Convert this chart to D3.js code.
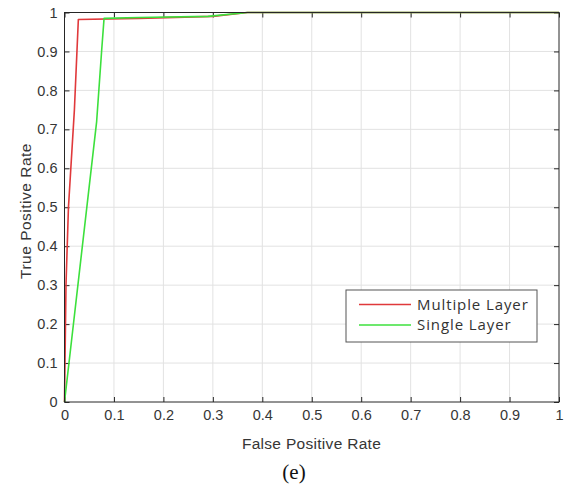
<!DOCTYPE html>
<html>
<head>
<meta charset="utf-8">
<script src="https://cdn.jsdelivr.net/npm/d3@7"></script>
<style>
  html, body { margin: 0; padding: 0; background: #fff; }
  svg { display: block; }
</style>
</head>
<body>
<svg id="chart" width="568" height="487"></svg>
<script>
// ROC curves: false positive rate vs true positive rate
const multipleFpr = [0, 0.003, 0.008, 0.02, 0.028, 0.15, 0.3, 0.37, 1];
const multipleTpr = [0, 0.30, 0.50, 0.75, 0.982, 0.985, 0.99, 1, 1];
const singleFpr = [0, 0.065, 0.075, 0.08, 0.15, 0.29, 0.37, 1];
const singleTpr = [0, 0.72, 0.90, 0.985, 0.987, 0.99, 1, 1];
const xTicks = [0, 0.1, 0.2, 0.3, 0.4, 0.5, 0.6, 0.7, 0.8, 0.9, 1];
const yTicks = [0, 0.1, 0.2, 0.3, 0.4, 0.5, 0.6, 0.7, 0.8, 0.9, 1];
const seriesNames = ["Multiple Layer", "Single Layer"];
const seriesColors = ["#e0393b", "#3ce03c"];

const svg = d3.select("#chart");
const plotLeft = 64.5, plotRight = 559, plotTop = 12.5, plotBottom = 402;
const x = d3.scaleLinear().domain([0, 1]).range([plotLeft, plotRight]);
const y = d3.scaleLinear().domain([0, 1]).range([plotBottom, plotTop]);

const axisColor = "#262626";
const labelColor = "#363636";
const tickFont = "'Liberation Sans', Arial, sans-serif";

// grid
const grid = svg.append("g");
grid.selectAll("line.gx").data(xTicks.slice(1, -1)).enter().append("line")
  .attr("x1", d => x(d)).attr("x2", d => x(d)).attr("y1", plotTop).attr("y2", plotBottom)
  .attr("stroke", "#e2e2e2").attr("stroke-width", 1);
grid.selectAll("line.gy").data(yTicks.slice(1, -1)).enter().append("line")
  .attr("y1", d => y(d)).attr("y2", d => y(d)).attr("x1", plotLeft).attr("x2", plotRight)
  .attr("stroke", "#e2e2e2").attr("stroke-width", 1);

// axes with inward ticks on all sides
function styleAxis(g) {
  g.select(".domain").remove();
  g.selectAll(".tick line").attr("stroke", axisColor);
  g.selectAll(".tick text").attr("fill", labelColor)
    .style("font-family", tickFont).style("font-size", "14.5px");
}
svg.append("g").attr("transform", `translate(0,${plotBottom})`)
  .call(d3.axisBottom(x).tickValues(xTicks).tickSize(-5).tickPadding(8).tickFormat(d3.format("~g")))
  .call(styleAxis);
svg.append("g").attr("transform", `translate(${plotLeft},0)`)
  .call(d3.axisLeft(y).tickValues(yTicks).tickSize(-5).tickPadding(7).tickFormat(d3.format("~g")))
  .call(styleAxis);
svg.append("g").attr("transform", `translate(0,${plotTop})`)
  .call(d3.axisTop(x).tickValues(xTicks).tickSize(-5).tickFormat(""))
  .call(styleAxis);
svg.append("g").attr("transform", `translate(${plotRight},0)`)
  .call(d3.axisRight(y).tickValues(yTicks).tickSize(-5).tickFormat(""))
  .call(styleAxis);

// curves
const line = d3.line().x(d => x(d[0])).y(d => y(d[1]));
const series = [
  d3.zip(multipleFpr, multipleTpr),
  d3.zip(singleFpr, singleTpr)
];
series.forEach((pts, i) => {
  svg.append("path").datum(pts).attr("d", line)
    .attr("fill", "none").attr("stroke", seriesColors[i]).attr("stroke-width", 1.6)
    .attr("stroke-linejoin", "round");
});

// frame
svg.append("rect").attr("x", plotLeft).attr("y", plotTop)
  .attr("width", plotRight - plotLeft).attr("height", plotBottom - plotTop)
  .attr("fill", "none").attr("stroke", axisColor).attr("stroke-width", 1);

// axis titles
svg.append("text").attr("x", 311.5).attr("y", 449)
  .attr("text-anchor", "middle").attr("fill", labelColor)
  .style("font-family", tickFont).style("font-size", "15.5px").style("letter-spacing", "0.3px")
  .text("False Positive Rate");
svg.append("text").attr("transform", `translate(31,211) rotate(-90)`)
  .attr("text-anchor", "middle").attr("fill", labelColor)
  .style("font-family", tickFont).style("font-size", "15.5px").style("letter-spacing", "0.5px")
  .text("True Positive Rate");
svg.append("text").attr("x", 294).attr("y", 479)
  .attr("text-anchor", "middle").attr("fill", "#111")
  .style("font-family", "'Liberation Serif', 'Times New Roman', serif").style("font-size", "21px")
  .text("(e)");

// legend
const lg = svg.append("g");
lg.append("rect").attr("x", 346).attr("y", 290).attr("width", 191).attr("height", 52)
  .attr("fill", "#fff").attr("stroke", "#555").attr("stroke-width", 1);
seriesNames.forEach((name, i) => {
  const ly = 304.5 + i * 20.5;
  lg.append("line").attr("x1", 359).attr("x2", 411).attr("y1", ly).attr("y2", ly)
    .attr("stroke", seriesColors[i]).attr("stroke-width", 1.6);
  lg.append("text").attr("x", 417).attr("y", ly).attr("dy", "0.36em")
    .attr("fill", "#333").style("font-family", "'Open Sans', sans-serif").style("font-size", "15px")
    .style("letter-spacing", "0.9px")
    .text(name);
});
</script>
</body>
</html>
